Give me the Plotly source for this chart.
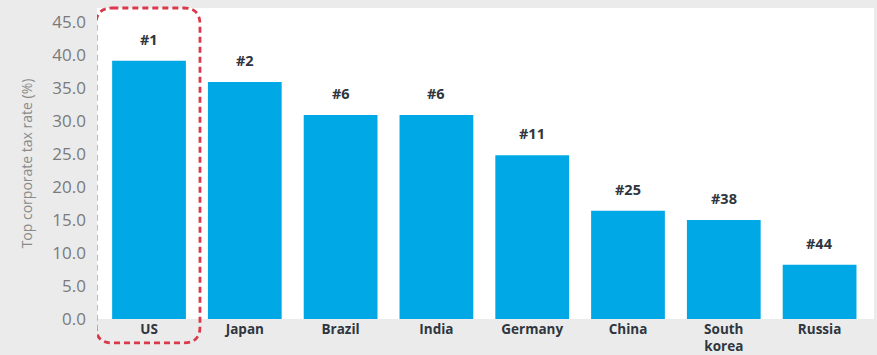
import plotly.graph_objects as go

countries = ["US", "Japan", "Brazil", "India", "Germany", "China", "South<br>korea", "Russia"]
tax_rates = [39.1, 35.9, 30.9, 30.9, 24.8, 16.4, 15.0, 8.2]
ranks = ["#1", "#2", "#6", "#6", "#11", "#25", "#38", "#44"]

_BAR = "#00a9e6"
_DARK = "#2f3640"
_GREY = "#7a7a7a"
_BG = "#ebebeb"

x_idx = list(range(len(countries)))

fig = go.Figure(
    go.Bar(
        x=x_idx,
        y=tax_rates,
        width=0.77,
        marker={"color": _BAR, "line": {"width": 0}},
        showlegend=False,
        hoverinfo="y",
    )
)

# rank labels above each bar
for i, (val, rank) in enumerate(zip(tax_rates, ranks)):
    fig.add_annotation(
        x=i,
        y=val,
        text=f"<b>{rank}</b>",
        showarrow=False,
        yanchor="bottom",
        yshift=10,
        font={"family": "Open Sans", "size": 14.5, "color": _DARK},
    )

# dashed rounded box highlighting the US
x0, x1 = -0.553, 0.532
y0, y1 = -0.077, 1.0
rx, ry = 0.17, 0.052
box = (
    f"M {x0 + rx},{y1} L {x1 - rx},{y1} Q {x1},{y1} {x1},{y1 - ry} "
    f"L {x1},{y0 + ry} Q {x1},{y0} {x1 - rx},{y0} "
    f"L {x0 + rx},{y0} Q {x0},{y0} {x0},{y0 + ry} "
    f"L {x0},{y1 - ry} Q {x0},{y1} {x0 + rx},{y1} Z"
)
fig.add_shape(
    type="path",
    path=box,
    xref="x",
    yref="paper",
    line={"color": "#d9394a", "width": 2.8, "dash": "6px,4px"},
    layer="above",
)

fig.update_layout(
    width=877,
    height=355,
    paper_bgcolor=_BG,
    plot_bgcolor="white",
    margin={"l": 97, "r": 3, "t": 8, "b": 36},
    xaxis={
        "range": [-0.543, 7.568],
        "tickvals": x_idx,
        "ticktext": [f"<b>{c}</b>" for c in countries],
        "tickfont": {"family": "Open Sans", "size": 13.5, "color": _DARK},
        "ticklabelstandoff": 0,
        "showgrid": False,
        "zeroline": False,
        "showline": False,
        "ticks": "",
        "automargin": False,
    },
    yaxis={
        "range": [0, 47.1],
        "tickvals": [0, 5, 10, 15, 20, 25, 30, 35, 40, 45],
        "tickformat": ".1f",
        "tickfont": {"family": "Open Sans", "size": 17, "color": _GREY},
        "ticklabelstandoff": 10,
        "showgrid": False,
        "zeroline": False,
        "showline": False,
        "automargin": False,
        "title": {
            "text": "Top corporate tax rate (%)",
            "font": {"family": "Open Sans", "size": 14, "color": "#8a8a8a"},
            "standoff": 16,
        },
    },
)

# drop the page margin so the figure sits at the window's top-left corner
fig.write_html(
    "out.html",
    config={"displayModeBar": False},
    post_script="document.body.style.margin='0';document.body.style.background='#ebebeb';",
)
